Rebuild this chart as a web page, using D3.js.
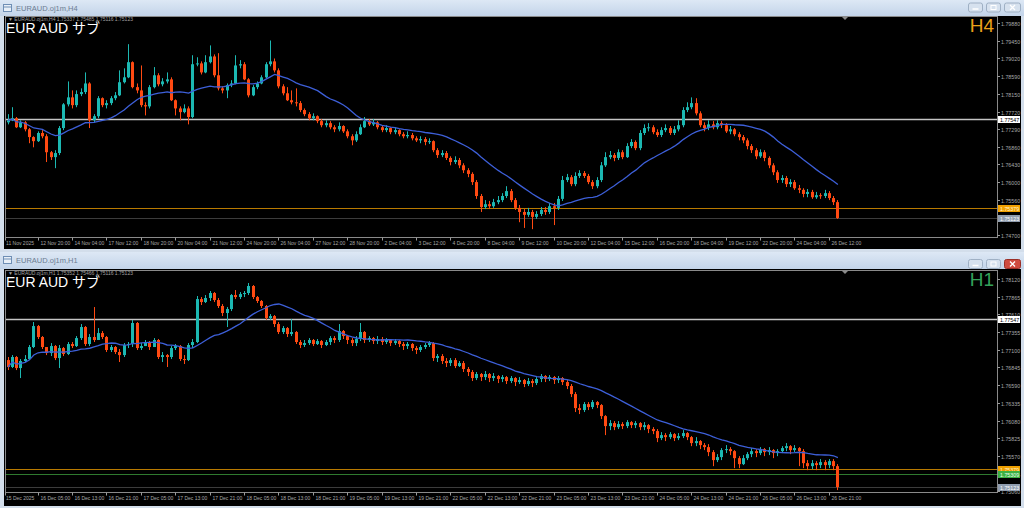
<!DOCTYPE html>
<html><head><meta charset="utf-8">
<script src="https://cdn.jsdelivr.net/npm/d3@7"></script>
<style>html,body{margin:0;padding:0;background:#d6e1ee;overflow:hidden}svg{display:block}</style>
</head><body>
<svg id="c" width="1024" height="508"></svg>
<script>
// ---------------- H4 data ----------------
const h4Open0 = 1.7746;
const h4Close = [
1.7751,1.7756,1.7734,1.7746,1.7729,1.7710,1.7700,1.7720,1.7712,1.7673,
1.7661,1.7671,1.7732,1.7790,1.7807,1.7788,1.7815,1.7820,1.7841,1.7751,
1.7761,1.7805,1.7788,1.7793,1.7805,1.7812,1.7844,1.7856,1.7893,1.7832,
1.7824,1.7788,1.7785,1.7832,1.7861,1.7839,1.7846,1.7851,1.7800,1.7780,
1.7771,1.7780,1.7759,1.7888,1.7890,1.7868,1.7893,1.7907,1.7861,1.7829,
1.7824,1.7837,1.7841,1.7885,1.7888,1.7851,1.7812,1.7832,1.7841,1.7856,
1.7888,1.7895,1.7873,1.7834,1.7817,1.7800,1.7795,1.7793,1.7776,1.7766,
1.7756,1.7761,1.7749,1.7739,1.7744,1.7734,1.7729,1.7737,1.7724,1.7712,
1.7702,1.7717,1.7734,1.7749,1.7741,1.7746,1.7734,1.7727,1.7732,1.7722,
1.7727,1.7717,1.7712,1.7715,1.7707,1.7702,1.7705,1.7698,1.7700,1.7678,
1.7666,1.7671,1.7659,1.7649,1.7654,1.7641,1.7629,1.7620,1.7600,1.7566,
1.7539,1.7546,1.7541,1.7551,1.7556,1.7566,1.7578,1.7556,1.7537,1.7527,
1.7520,1.7527,1.7515,1.7522,1.7532,1.7527,1.7541,1.7537,1.7559,1.7605,
1.7612,1.7595,1.7615,1.7622,1.7615,1.7600,1.7590,1.7605,1.7641,1.7661,
1.7666,1.7659,1.7673,1.7661,1.7688,1.7698,1.7683,1.7720,1.7732,1.7734,
1.7722,1.7715,1.7727,1.7732,1.7720,1.7729,1.7739,1.7776,1.7783,1.7793,
1.7768,1.7739,1.7732,1.7741,1.7734,1.7744,1.7739,1.7724,1.7729,1.7717,
1.7710,1.7702,1.7688,1.7678,1.7663,1.7673,1.7659,1.7641,1.7624,1.7605,
1.7610,1.7595,1.7600,1.7585,1.7581,1.7571,1.7576,1.7563,1.7568,1.7566,
1.7573,1.7561,1.7551,1.75123];
const h4High = [
1.7766,1.7783,1.7759,1.7751,1.7749,1.7732,1.7712,1.7724,1.7727,1.7717,
1.7676,1.7678,1.7737,1.7793,1.7846,1.7824,1.7824,1.7829,1.7868,1.7844,
1.7766,1.7810,1.7807,1.7800,1.7810,1.7820,1.7873,1.7878,1.7937,1.7895,
1.7841,1.7885,1.7795,1.7837,1.7881,1.7866,1.7854,1.7868,1.7856,1.7802,
1.7785,1.7790,1.7785,1.7910,1.7905,1.7895,1.7910,1.7934,1.7912,1.7915,
1.7834,1.7841,1.7849,1.7910,1.7898,1.7893,1.7854,1.7837,1.7846,1.7861,
1.7893,1.7946,1.7902,1.7878,1.7839,1.7832,1.7824,1.7829,1.7798,1.7780,
1.7771,1.7768,1.7763,1.7754,1.7751,1.7749,1.7739,1.7746,1.7739,1.7729,
1.7717,1.7724,1.7741,1.7759,1.7754,1.7754,1.7749,1.7739,1.7739,1.7734,
1.7734,1.7729,1.7722,1.7724,1.7720,1.7712,1.7712,1.7710,1.7707,1.7702,
1.7683,1.7678,1.7676,1.7663,1.7663,1.7659,1.7646,1.7634,1.7624,1.7605,
1.7571,1.7556,1.7554,1.7559,1.7566,1.7573,1.7590,1.7583,1.7561,1.7544,
1.7534,1.7537,1.7532,1.7529,1.7539,1.7539,1.7549,1.7549,1.7566,1.7615,
1.7620,1.7617,1.7624,1.7629,1.7627,1.7620,1.7605,1.7612,1.7649,1.7673,
1.7676,1.7671,1.7680,1.7678,1.7695,1.7705,1.7702,1.7727,1.7741,1.7744,
1.7739,1.7729,1.7734,1.7741,1.7737,1.7737,1.7751,1.7783,1.7795,1.7807,
1.7805,1.7773,1.7746,1.7751,1.7749,1.7751,1.7749,1.7744,1.7737,1.7732,
1.7722,1.7715,1.7707,1.7693,1.7683,1.7680,1.7678,1.7663,1.7646,1.7629,
1.7617,1.7615,1.7607,1.7605,1.7593,1.7585,1.7583,1.7581,1.7576,1.7573,
1.7581,1.7578,1.7566,1.7556];
const h4Low = [
1.7741,1.7749,1.7732,1.7732,1.7724,1.7695,1.7685,1.7698,1.7707,1.7649,
1.7654,1.7634,1.7666,1.7727,1.7785,1.7780,1.7783,1.7810,1.7815,1.7732,
1.7746,1.7756,1.7783,1.7780,1.7788,1.7800,1.7810,1.7841,1.7854,1.7829,
1.7817,1.7783,1.7763,1.7780,1.7829,1.7834,1.7834,1.7841,1.7798,1.7763,
1.7751,1.7768,1.7741,1.7756,1.7883,1.7863,1.7866,1.7890,1.7856,1.7824,
1.7817,1.7805,1.7832,1.7839,1.7878,1.7849,1.7807,1.7810,1.7827,1.7839,
1.7854,1.7883,1.7868,1.7829,1.7812,1.7798,1.7790,1.7785,1.7771,1.7761,
1.7751,1.7751,1.7744,1.7734,1.7734,1.7729,1.7722,1.7724,1.7720,1.7707,
1.7690,1.7698,1.7715,1.7732,1.7737,1.7737,1.7729,1.7722,1.7722,1.7717,
1.7717,1.7712,1.7707,1.7707,1.7702,1.7698,1.7695,1.7690,1.7693,1.7673,
1.7659,1.7661,1.7654,1.7641,1.7644,1.7634,1.7622,1.7612,1.7593,1.7559,
1.7527,1.7534,1.7534,1.7537,1.7546,1.7551,1.7561,1.7551,1.7532,1.7502,
1.7488,1.7515,1.7485,1.7510,1.7517,1.7520,1.7522,1.7495,1.7532,1.7554,
1.7600,1.7590,1.7590,1.7610,1.7610,1.7595,1.7583,1.7585,1.7600,1.7637,
1.7656,1.7651,1.7654,1.7656,1.7659,1.7683,1.7678,1.7678,1.7715,1.7724,
1.7717,1.7710,1.7710,1.7722,1.7715,1.7715,1.7724,1.7734,1.7771,1.7778,
1.7763,1.7734,1.7724,1.7727,1.7729,1.7729,1.7732,1.7720,1.7717,1.7712,
1.7702,1.7695,1.7680,1.7671,1.7656,1.7659,1.7651,1.7634,1.7617,1.7598,
1.7598,1.7588,1.7588,1.7581,1.7573,1.7563,1.7563,1.7559,1.7559,1.7559,
1.7561,1.7556,1.7544,1.7510];
const h4PriceTicks = [1.79880,1.79450,1.79020,1.78590,1.78150,1.77720,1.77290,1.76860,1.76430,1.76000,1.75560,1.74700];
const h4TimeLabels = ["11 Nov 2025","12 Nov 20:00","14 Nov 04:00","17 Nov 12:00","18 Nov 20:00","20 Nov 04:00","21 Nov 12:00","24 Nov 20:00","26 Nov 04:00","27 Nov 12:00","28 Nov 20:00","2 Dec 04:00","3 Dec 12:00","4 Dec 20:00","8 Dec 04:00","9 Dec 12:00","10 Dec 20:00","12 Dec 04:00","15 Dec 12:00","16 Dec 20:00","18 Dec 04:00","19 Dec 12:00","22 Dec 20:00","24 Dec 04:00","26 Dec 12:00"];
const h4Levels = [
 {v:1.77547, line:"#c4c4c4", w:1.6, box:"#ffffff", txt:"#000"},
 {v:1.75379, line:"#b97a00", w:1, box:"#f0a000", txt:"#fff4d0"},
 {v:1.75123, line:"#3c3c3c", w:1, box:"#8f9cae", txt:"#ffffff"}];

// ---------------- H1 data ----------------
const h1Open0 = 1.76952;
const h1Close = [
1.76852,1.76996,1.76837,1.76938,1.76967,1.77140,1.77442,1.77284,1.77140,1.77053,
1.77154,1.76981,1.77125,1.77039,1.77183,1.77154,1.77269,1.77428,1.77183,1.77284,
1.77241,1.77341,1.77284,1.77097,1.77140,1.77068,1.77024,1.77169,1.77183,1.77486,
1.77125,1.77154,1.77212,1.77140,1.77241,1.76996,1.77024,1.76996,1.77125,1.77154,
1.76967,1.76952,1.77169,1.77212,1.77831,1.77788,1.77846,1.77918,1.77817,1.77731,
1.77630,1.77687,1.77889,1.77860,1.77903,1.77918,1.78019,1.77860,1.77803,1.77731,
1.77558,1.77586,1.77471,1.77356,1.77413,1.77327,1.77356,1.77212,1.77169,1.77197,
1.77241,1.77183,1.77226,1.77169,1.77212,1.77269,1.77241,1.77370,1.77298,1.77241,
1.77197,1.77255,1.77356,1.77241,1.77269,1.77226,1.77255,1.77212,1.77241,1.77197,
1.77226,1.77183,1.77154,1.77183,1.77125,1.77097,1.77140,1.77169,1.77197,1.76981,
1.77010,1.76938,1.76909,1.76952,1.76866,1.76909,1.76823,1.76780,1.76693,1.76751,
1.76707,1.76751,1.76693,1.76722,1.76679,1.76707,1.76650,1.76693,1.76635,1.76664,
1.76607,1.76650,1.76621,1.76679,1.76722,1.76679,1.76707,1.76664,1.76693,1.76635,
1.76578,1.76462,1.76260,1.76232,1.76318,1.76275,1.76347,1.76304,1.76145,1.76001,
1.76044,1.75986,1.76030,1.76001,1.76058,1.76015,1.76044,1.75986,1.76015,1.75958,
1.75929,1.75828,1.75871,1.75842,1.75885,1.75828,1.75857,1.75900,1.75842,1.75756,
1.75785,1.75727,1.75698,1.75626,1.75511,1.75554,1.75655,1.75669,1.75640,1.75539,
1.75453,1.75539,1.75597,1.75640,1.75612,1.75669,1.75626,1.75655,1.75612,1.75640,
1.75684,1.75712,1.75655,1.75684,1.75640,1.75467,1.75424,1.75467,1.75439,1.75482,
1.75439,1.75496,1.75424,1.75123];
const h1High = [
1.76996,1.77024,1.77010,1.76967,1.77024,1.77169,1.77500,1.77457,1.77298,1.77140,
1.77197,1.77169,1.77169,1.77140,1.77212,1.77212,1.77298,1.77471,1.77442,1.77327,
1.77716,1.77413,1.77370,1.77298,1.77169,1.77154,1.77111,1.77197,1.77212,1.77529,
1.77500,1.77197,1.77241,1.77226,1.77269,1.77255,1.77068,1.77039,1.77154,1.77183,
1.77169,1.77024,1.77197,1.77255,1.77875,1.77860,1.77889,1.77947,1.77932,1.77846,
1.77759,1.77716,1.77903,1.77961,1.77932,1.77947,1.78062,1.78033,1.77875,1.77817,
1.77745,1.77615,1.77601,1.77500,1.77442,1.77428,1.77543,1.77370,1.77241,1.77241,
1.77269,1.77255,1.77255,1.77241,1.77241,1.77298,1.77298,1.77471,1.77385,1.77313,
1.77269,1.77298,1.77486,1.77370,1.77298,1.77284,1.77298,1.77284,1.77269,1.77255,
1.77255,1.77241,1.77212,1.77212,1.77197,1.77154,1.77169,1.77197,1.77226,1.77212,
1.77039,1.77039,1.76981,1.76981,1.76981,1.76938,1.76938,1.76852,1.76808,1.76780,
1.76765,1.76794,1.76765,1.76765,1.76736,1.76736,1.76722,1.76722,1.76707,1.76707,
1.76679,1.76693,1.76679,1.76707,1.76751,1.76736,1.76736,1.76722,1.76722,1.76707,
1.76664,1.76607,1.76491,1.76318,1.76347,1.76347,1.76376,1.76361,1.76318,1.76159,
1.76087,1.76073,1.76073,1.76058,1.76087,1.76073,1.76073,1.76058,1.76058,1.76030,
1.75986,1.75958,1.75914,1.75900,1.75914,1.75900,1.75900,1.75943,1.75914,1.75857,
1.75842,1.75799,1.75756,1.75741,1.75655,1.75597,1.75684,1.75727,1.75698,1.75655,
1.75568,1.75583,1.75626,1.75684,1.75669,1.75698,1.75684,1.75698,1.75669,1.75669,
1.75712,1.75756,1.75727,1.75727,1.75698,1.75669,1.75511,1.75511,1.75496,1.75525,
1.75511,1.75525,1.75525,1.75453];
const h1Low = [
1.76808,1.76837,1.76808,1.76693,1.76924,1.76952,1.77125,1.77255,1.77111,1.77024,
1.77010,1.76952,1.76837,1.77010,1.77024,1.77125,1.77140,1.77241,1.77154,1.77154,
1.77212,1.77255,1.77255,1.77068,1.77068,1.77039,1.76924,1.76996,1.77125,1.77140,
1.77097,1.77097,1.77154,1.77097,1.77183,1.76967,1.76924,1.76852,1.76967,1.77097,
1.76938,1.76895,1.76938,1.77125,1.77197,1.77745,1.77774,1.77803,1.77788,1.77702,
1.77586,1.77428,1.77658,1.77831,1.77831,1.77860,1.77889,1.77831,1.77774,1.77702,
1.77529,1.77529,1.77428,1.77327,1.77327,1.77284,1.77298,1.77183,1.77125,1.77140,
1.77169,1.77154,1.77169,1.77125,1.77154,1.77169,1.77197,1.77212,1.77255,1.77183,
1.77154,1.77154,1.77226,1.77197,1.77212,1.77183,1.77183,1.77169,1.77183,1.77154,
1.77169,1.77140,1.77097,1.77111,1.77082,1.77039,1.77068,1.77111,1.77140,1.76938,
1.76924,1.76895,1.76852,1.76866,1.76837,1.76852,1.76780,1.76722,1.76650,1.76664,
1.76650,1.76664,1.76635,1.76650,1.76621,1.76635,1.76607,1.76621,1.76578,1.76607,
1.76563,1.76578,1.76563,1.76592,1.76635,1.76635,1.76650,1.76607,1.76621,1.76592,
1.76534,1.76419,1.76203,1.76174,1.76203,1.76232,1.76246,1.76260,1.76102,1.75871,
1.75943,1.75943,1.75958,1.75958,1.75972,1.75972,1.75972,1.75943,1.75943,1.75900,
1.75885,1.75770,1.75799,1.75785,1.75813,1.75785,1.75799,1.75828,1.75799,1.75712,
1.75712,1.75669,1.75655,1.75568,1.75424,1.75482,1.75511,1.75612,1.75583,1.75395,
1.75395,1.75439,1.75511,1.75554,1.75554,1.75583,1.75568,1.75583,1.75539,1.75568,
1.75612,1.75640,1.75597,1.75626,1.75424,1.75395,1.75366,1.75381,1.75366,1.75395,
1.75366,1.75395,1.75366,1.75079];
const h1PriceTicks = [1.78120,1.77865,1.77610,1.77355,1.77100,1.76845,1.76590,1.76335,1.76080,1.75825,1.75570,1.75315,1.75060];
const h1TimeLabels = ["15 Dec 2025","16 Dec 05:00","16 Dec 13:00","16 Dec 21:00","17 Dec 05:00","17 Dec 13:00","17 Dec 21:00","18 Dec 05:00","18 Dec 13:00","18 Dec 21:00","19 Dec 05:00","19 Dec 13:00","19 Dec 21:00","22 Dec 05:00","22 Dec 13:00","22 Dec 21:00","23 Dec 05:00","23 Dec 13:00","23 Dec 21:00","24 Dec 05:00","24 Dec 13:00","24 Dec 21:00","26 Dec 05:00","26 Dec 13:00","26 Dec 21:00"];
const h1Levels = [
 {v:1.77547, line:"#c4c4c4", w:1.6, box:"#ffffff", txt:"#000"},
 {v:1.75379, line:"#b97a00", w:1, box:"#f0a000", txt:"#fff4d0"},
 {v:1.75309, line:"#2f7a2f", w:1, box:"#3cb043", txt:"#e8ffe8"},
 {v:1.75123, line:"#3c3c3c", w:1, box:"#8f9cae", txt:"#ffffff"}];

const maPeriod = 20;

// ---------------- drawing ----------------
const svg = d3.select("#c");
const BULL = "#1cb8b2", BEAR = "#ff4a12", MA = "#3d5fd8";
const FONT = "'Liberation Sans', Arial, 'Noto Sans CJK JP', sans-serif";

svg.append("rect").attr("width",1024).attr("height",508).attr("fill","#d3deeb");

const defs = svg.append("defs");
const tg = defs.append("linearGradient").attr("id","tb").attr("x1",0).attr("y1",0).attr("x2",0).attr("y2",1);
tg.append("stop").attr("offset","0").attr("stop-color","#dde8f5");
tg.append("stop").attr("offset","1").attr("stop-color","#c3d4e9");

const panels = [
 {title:"EURAUD.oj1m,H4", tf:"H4", tfColor:"#eba21a", titleY:0, titleH:16, blackY:16, blackB:249,
  plotT:16.5, plotB:237.5, dom:[1.74700,1.79880], rng:[235.3,23.3], open0:h4Open0, close:h4Close, high:h4High, low:h4Low,
  ticks:h4PriceTicks, times:h4TimeLabels, levels:h4Levels, header:"EURAUD.oj1m,H4  1.75337 1.75485 1.75116 1.75123", active:false},
 {title:"EURAUD.oj1m,H1", tf:"H1", tfColor:"#34a25a", titleY:252, titleH:17, blackY:269, blackB:506,
  plotT:270.5, plotB:492.5, dom:[1.75570,1.78120], rng:[456,279], open0:h1Open0, close:h1Close, high:h1High, low:h1Low,
  ticks:h1PriceTicks, times:h1TimeLabels, levels:h1Levels, header:"EURAUD.oj1m,H1  1.75352 1.75466 1.75116 1.75123", active:true}
];

panels.forEach((p,pi)=>{
  const g = svg.append("g");
  // title bar
  g.append("rect").attr("x",0).attr("y",p.titleY).attr("width",1024).attr("height",p.titleH).attr("fill","url(#tb)");
  g.append("rect").attr("x",3.5).attr("y",p.titleY+4.5).attr("width",8).attr("height",7).attr("fill","#e9f0f8").attr("stroke","#6f8fb5");
  g.append("line").attr("x1",3.5).attr("x2",11.5).attr("y1",p.titleY+7).attr("y2",p.titleY+7).attr("stroke","#6f8fb5");
  g.append("text").attr("x",16).attr("y",p.titleY+10.5).attr("font-family",FONT).attr("font-size",7.5)
    .attr("fill","#6c7d92").text(p.title);
  // window buttons
  const by = p.titleY + (p.active?7:2.5);
  [968,986,1004].forEach((bx,k)=>{
    g.append("rect").attr("x",bx+0.5).attr("y",by+0.5).attr("width",k==2?16:14).attr("height",9).attr("rx",2)
     .attr("fill", (p.active && k==2)?"#cf4b3f":"#d6e1ee").attr("stroke", (p.active && k==2)?"#9b2f27":"#9fb0c4");
    const cx = bx + (k==2?8.5:7.5), cy = by+5;
    if(k==0) g.append("line").attr("x1",cx-3).attr("x2",cx+3).attr("y1",cy+1.5).attr("y2",cy+1.5).attr("stroke","#fff").attr("stroke-width",1.5);
    if(k==1) g.append("rect").attr("x",cx-2.5).attr("y",cy-2).attr("width",5).attr("height",4).attr("fill","none").attr("stroke","#fff");
    if(k==2){ g.append("path").attr("d",`M${cx-2.5},${cy-2.5}L${cx+2.5},${cy+2.5}M${cx+2.5},${cy-2.5}L${cx-2.5},${cy+2.5}`).attr("stroke","#fff").attr("stroke-width",1.3);}
  });
  // black area
  g.append("rect").attr("x",4).attr("y",p.blackY).attr("width",1017).attr("height",p.blackB-p.blackY).attr("fill","#000");

  const x = d3.scaleLinear().domain([0,193]).range([7.5,837.4]);
  const y = d3.scaleLinear().domain(p.dom).range(p.rng);
  const px = i => Math.round(x(i));

  const clipId = "clip"+pi;
  defs.append("clipPath").attr("id",clipId).append("rect")
    .attr("x",5.5).attr("y",p.plotT).attr("width",992).attr("height",p.plotB-p.plotT);
  const plot = g.append("g").attr("clip-path",`url(#${clipId})`);

  // level lines
  p.levels.forEach(l=>{
    const yy = Math.round(y(l.v))+0.5;
    plot.append("line").attr("x1",5).attr("x2",998).attr("y1",yy).attr("y2",yy).attr("stroke",l.line).attr("stroke-width",l.w);
  });

  // candles
  const data = p.close.map((c,i)=>{
    const o = i===0 ? p.open0 : p.close[i-1];
    return {i, o, c, h:Math.max(p.high[i],o,c), l:Math.min(p.low[i],o,c)};
  });
  plot.selectAll("line.wick").data(data).enter().append("line").attr("class","wick")
    .attr("x1",d=>px(d.i)+0.5).attr("x2",d=>px(d.i)+0.5)
    .attr("y1",d=>y(d.h)).attr("y2",d=>y(d.l))
    .attr("stroke",d=>d.c>=d.o?BULL:BEAR).attr("stroke-width",1);
  plot.selectAll("rect.body").data(data).enter().append("rect").attr("class","body")
    .attr("x",d=>px(d.i)-1).attr("width",3)
    .attr("y",d=>Math.min(y(d.o),y(d.c)))
    .attr("height",d=>Math.max(1,Math.abs(y(d.o)-y(d.c))))
    .attr("fill",d=>d.c>=d.o?BULL:BEAR);

  // moving average
  const ma = p.close.map((_,i)=>d3.mean(p.close.slice(Math.max(0,i-maPeriod+1),i+1)));
  plot.append("path").datum(ma)
    .attr("d",d3.line().x((d,i)=>x(i)+0.5).y(d=>y(d)).curve(d3.curveLinear))
    .attr("fill","none").attr("stroke",MA).attr("stroke-width",1.3);

  // plot border
  g.append("rect").attr("x",5.5).attr("y",p.plotT).attr("width",992).attr("height",p.plotB-p.plotT)
    .attr("fill","none").attr("stroke","#8a8a8a").attr("stroke-width",1);

  // shift marker
  g.append("path").attr("d",`M842,${p.plotT+0.5}L848,${p.plotT+0.5}L845,${p.plotT+3.5}Z`).attr("fill","#8a8a8a");

  // price axis
  p.ticks.forEach(t=>{
    const yy = Math.round(y(t))+0.5;
    g.append("line").attr("x1",997.5).attr("x2",1000).attr("y1",yy).attr("y2",yy).attr("stroke","#9a9a9a");
    g.append("text").attr("x",1001).attr("y",yy+2).attr("font-family",FONT).attr("font-size",5.3)
      .attr("fill","#a8a8a8").text(t.toFixed(5));
  });
  p.levels.forEach(l=>{
    const yy = Math.round(y(l.v))+0.5;
    g.append("rect").attr("x",998).attr("y",yy-3.5).attr("width",22).attr("height",7).attr("fill",l.box);
    g.append("text").attr("x",1000).attr("y",yy+2).attr("font-family",FONT).attr("font-size",5.3)
      .attr("fill",l.txt).text(l.v.toFixed(5));
  });

  // time axis
  p.times.forEach((t,k)=>{
    const tx = k===0 ? 5.5 : px(7+8*(k-1))+0.5;
    g.append("line").attr("x1",tx).attr("x2",tx).attr("y1",p.plotB).attr("y2",p.plotB+3).attr("stroke","#9a9a9a");
    g.append("text").attr("x",tx+ (k===0?0.5:2)).attr("y",p.plotB+7).attr("font-family",FONT).attr("font-size",5)
      .attr("fill","#a8a8a8").text(t);
  });

  // header texts
  g.append("text").attr("x",8).attr("y",p.plotT+4.5).attr("font-family",FONT).attr("font-size",5)
    .attr("fill","#a0a0a0").text("▼ "+p.header);
  g.append("text").attr("x",6).attr("y",p.plotT+16.5).attr("font-family",FONT).attr("font-size",14)
    .attr("fill","#ffffff").text("EUR AUD サブ");
  g.append("text").attr("x",994).attr("y",p.plotT+15.5).attr("text-anchor","end").attr("font-family",FONT).attr("font-size",19)
    .attr("fill",p.tfColor).text(p.tf);
});
</script>
</body></html>
